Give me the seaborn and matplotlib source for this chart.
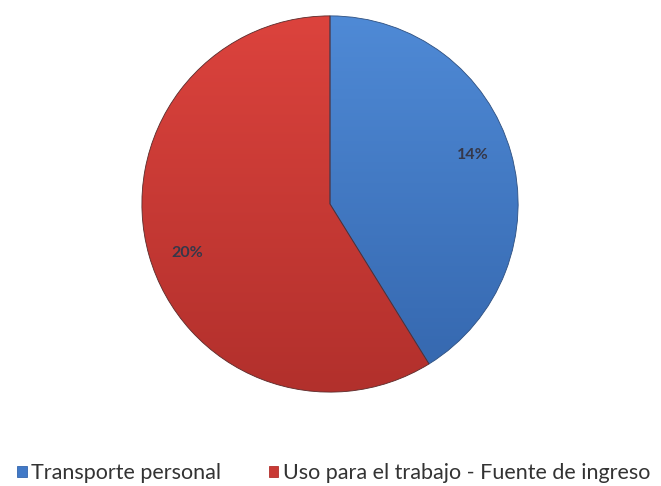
import numpy as np
import matplotlib
matplotlib.use("Agg")
import matplotlib.pyplot as plt
from matplotlib.colors import LinearSegmentedColormap
from matplotlib.patches import Patch
import seaborn as sns

# Data
categories = ["Transporte personal", "Uso para el trabajo - Fuente de ingreso"]
values = [14, 20]
labels_pct = ["14%", "20%"]

# Colours: light top tone and dark bottom tone for each slice
top_colors = ["#4f8ad6", "#dc433d"]
bottom_colors = ["#3466ad", "#b2302c"]
base_colors = ["#4179c7", "#c93a35"]

sns.set_theme(style="white")
plt.rcParams["font.family"] = ["Lato", "DejaVu Sans"]

fig = plt.figure(figsize=(6.61, 4.86), dpi=100)
W, H = 661, 486
cx, cy, r = 330, 204, 190
ax = fig.add_axes([(cx - r) / W, (H - cy - r) / H, 2 * r / W, 2 * r / H])

wedges, _ = ax.pie(values, colors=base_colors, startangle=90, counterclock=False,
                   radius=1.0, wedgeprops=dict(edgecolor="#5a2a2a", linewidth=0.6))
wedges[0].set_edgecolor("#2d4f80")

# vertical shading inside each slice
grad = np.linspace(0, 1, 256).reshape(-1, 1)
for w, c_top, c_bot in zip(wedges, top_colors, bottom_colors):
    cmap = LinearSegmentedColormap.from_list("shade", [c_top, c_bot])
    im = ax.imshow(grad, cmap=cmap, extent=[-1, 1, -1, 1], origin="upper",
                   aspect="auto", zorder=w.get_zorder() + 0.1, interpolation="bilinear")
    im.set_clip_path(w)

# slice edges drawn on top of the shading
for w in wedges:
    w.set_zorder(3)
    w.set_facecolor("none")

# percentage labels
total = sum(values)
start = 90.0
for v, txt in zip(values, labels_pct):
    span = 360.0 * v / total
    mid = np.deg2rad(start - span / 2 + 3)
    d = 0.8
    ax.text(d * np.cos(mid), d * np.sin(mid), txt, ha="center", va="center",
            fontsize=11.5, fontweight="bold", color="#35384a", zorder=5)
    start -= span

ax.set_xlim(-1.01, 1.01)
ax.set_ylim(-1.01, 1.01)
ax.set_aspect("equal")
ax.axis("off")

handles = [Patch(facecolor=c, edgecolor=b, linewidth=0.6) for c, b in zip(base_colors, bottom_colors)]
fig.legend(handles, categories, loc="center", bbox_to_anchor=(0.505, 13 / H), ncol=2,
           frameon=False, fontsize=15.5, handlelength=0.45, handleheight=0.45,
           handletextpad=0.2, columnspacing=2.2, labelcolor="#333333",
           borderpad=0, borderaxespad=0)

fig.savefig("out.png", dpi=100, facecolor="white")
